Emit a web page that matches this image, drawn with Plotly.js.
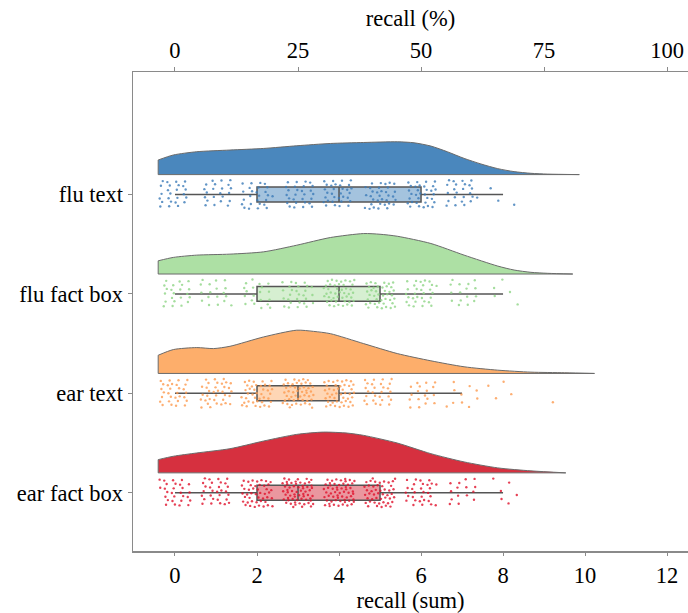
<!DOCTYPE html>
<html>
<head>
<meta charset="utf-8">
<script src="https://cdn.plot.ly/plotly-3.0.1.min.js"></script>
<style>html,body{margin:0;padding:0;background:#fff;}#chart{width:688px;height:613px;}</style>
</head>
<body>
<div id="chart"></div>
<script>
// ---------------- data ----------------
const groups = ["flu text", "flu fact box", "ear text", "ear fact box"];
const colors = ["#4a87bd", "#ade0a4", "#fdae6b", "#d6303f"];
const pointColors = ["#3b7bb8", "#8fd486", "#fd9a4f", "#e0102a"];
const boxFill = ["rgba(74,135,189,0.5)", "rgba(173,224,164,0.5)", "rgba(253,174,107,0.5)", "rgba(214,48,63,0.5)"];

// counts of participants per recall sum (0,1,2,...)
const countsFluText    = [25, 22, 26, 28, 32, 34, 33, 24, 3];
const countsFluFactBox = [22, 18, 20, 28, 45, 42, 30, 16, 5];
const countsEarText    = [30, 35, 40, 50, 45, 28, 18, 10, 4, 1];
const countsEarFactBox = [28, 30, 45, 60, 58, 48, 30, 15, 6];

// density curves (half violins): x grid and estimated density
const densXFluText    = [-0.41, -0.04, 0.53, 1.34, 2.16, 2.97, 3.79, 4.6, 5.42, 5.83, 6.24, 6.64, 7.05, 7.46, 7.87, 8.27, 8.68, 9.09, 9.86];
const densFluText     = [0.147, 0.197, 0.23, 0.247, 0.263, 0.29, 0.313, 0.323, 0.33, 0.32, 0.287, 0.23, 0.163, 0.107, 0.06, 0.03, 0.013, 0.005, 0.0];
const densXFluFactBox = [-0.41, -0.04, 0.53, 1.34, 2.16, 2.97, 3.79, 4.6, 5.0, 5.42, 6.24, 7.05, 7.87, 8.27, 8.68, 9.09, 9.7];
const densFluFactBox  = [0.133, 0.167, 0.19, 0.2, 0.223, 0.29, 0.367, 0.407, 0.40, 0.38, 0.307, 0.19, 0.08, 0.04, 0.017, 0.007, 0.0];
const densXEarText    = [-0.41, -0.04, 0.53, 0.94, 1.34, 2.16, 2.97, 3.38, 3.79, 4.6, 5.42, 6.24, 7.05, 7.87, 8.68, 9.5, 10.23];
const densEarText     = [0.183, 0.24, 0.26, 0.25, 0.273, 0.367, 0.435, 0.423, 0.40, 0.30, 0.20, 0.127, 0.067, 0.033, 0.013, 0.007, 0.0];
const densXEarFactBox = [-0.41, -0.04, 0.53, 1.34, 2.16, 2.97, 3.62, 4.2, 4.6, 5.42, 6.24, 7.05, 7.87, 8.68, 9.53];
const densEarFactBox  = [0.133, 0.167, 0.20, 0.243, 0.32, 0.387, 0.41, 0.40, 0.377, 0.30, 0.193, 0.11, 0.05, 0.02, 0.0];

const allCounts = [countsFluText, countsFluFactBox, countsEarText, countsEarFactBox];
const allDensX = [densXFluText, densXFluFactBox, densXEarText, densXEarFactBox];
const allDens = [densFluText, densFluFactBox, densEarText, densEarFactBox];

const sumTicks = [0, 2, 4, 6, 8, 10, 12];
const pctTicks = [0, 25, 50, 75, 100];
const maxSum = 12;

// ---------------- helpers ----------------
function expand(counts) {
  const v = [];
  counts.forEach((c, val) => { for (let i = 0; i < c; i++) v.push(val); });
  return v;
}
function quantile(sorted, p) {
  const idx = p * (sorted.length - 1);
  const lo = Math.floor(idx), hi = Math.ceil(idx);
  return sorted[lo] + (sorted[hi] - sorted[lo]) * (idx - lo);
}
function frac(x) { return x - Math.floor(x); }

const traces = [];
const violinOffset = 0.2;   // gap between category centre and violin baseline
const jitterX = 0.76, jitterY = 0.29;
const a1 = 0.7548776662466927, a2 = 0.5698402909980532; // R2 low-discrepancy sequence

groups.forEach((g, gi) => {
  const base = gi - violinOffset;
  const dx = allDensX[gi], d = allDens[gi];
  const xEnd = dx[dx.length - 1];
  // baseline + left edge of half violin
  traces.push({
    type: 'scatter', mode: 'lines',
    x: [dx[0], dx[0], xEnd], y: [base - d[0], base, base],
    line: {color: '#6b6b6b', width: 1}, hoverinfo: 'skip', showlegend: false
  });
  // density curve, filled to the baseline trace
  traces.push({
    type: 'scatter', mode: 'lines', x: dx, y: d.map(v => base - v), fill: 'tonexty',
    fillcolor: colors[gi], line: {color: '#6b6b6b', width: 1, shape: 'spline', smoothing: 0.7},
    hoverinfo: 'skip', showlegend: false
  });
  // jittered points
  const vals = expand(allCounts[gi]);
  const px = [], py = [];
  vals.forEach((v, k) => {
    px.push(v + (frac(0.5 + a1 * (k + 1) + gi * 0.13) - 0.5) * jitterX);
    py.push(gi + (frac(0.5 + a2 * (k + 1) + gi * 0.29) - 0.5) * jitterY);
  });
  traces.push({
    type: 'scatter', mode: 'markers', x: px, y: py,
    marker: {color: pointColors[gi], size: 2.4, opacity: 0.8},
    hoverinfo: 'skip', showlegend: false
  });
  // box
  const s = vals.slice().sort((a, b) => a - b);
  const q1 = quantile(s, 0.25), med = quantile(s, 0.5), q3 = quantile(s, 0.75);
  const iqr = q3 - q1;
  const lf = s.find(v => v >= q1 - 1.5 * iqr);
  const uf = s.filter(v => v <= q3 + 1.5 * iqr).pop();
  traces.push({
    type: 'box', orientation: 'h', y: [gi], q1: [q1], median: [med], q3: [q3],
    lowerfence: [lf], upperfence: [uf], width: 0.15, whiskerwidth: 0,
    fillcolor: boxFill[gi], line: {color: '#555555', width: 1.5},
    boxpoints: false, hoverinfo: 'skip', showlegend: false
  });
});

// invisible trace to activate the top (percent) axis
traces.push({type: 'scatter', mode: 'markers', x: [0], y: [0], xaxis: 'x2', yaxis: 'y',
  marker: {opacity: 0}, hoverinfo: 'skip', showlegend: false});

const xr = [-1.024, 12.51];
const font = {family: '"Liberation Serif", "Times New Roman", serif', size: 22.5, color: '#000'};
const layout = {
  width: 688, height: 613,
  margin: {l: 133, r: 0, t: 72, b: 62},
  paper_bgcolor: '#fff', plot_bgcolor: '#fff',
  font: font,
  xaxis: {
    range: xr, tickvals: sumTicks, ticktext: sumTicks.map(String),
    showline: true, linecolor: '#8a8a8a', linewidth: 1.5, mirror: false,
    ticks: 'outside', ticklen: 3, tickcolor: '#8a8a8a', showgrid: false, zeroline: false,
    title: {text: 'recall (sum)', font: font, standoff: 0}
  },
  xaxis2: {
    overlaying: 'x', side: 'top', range: xr.map(v => v * 100 / maxSum),
    tickvals: pctTicks, ticktext: pctTicks.map(String),
    showline: true, linecolor: '#8a8a8a', linewidth: 1.5,
    ticks: 'outside', ticklen: 4, tickcolor: '#8a8a8a', showgrid: false, zeroline: false,
    title: {text: 'recall (%)', font: font, standoff: 4}
  },
  yaxis: {
    range: [3.586, -1.232], tickvals: [0, 1, 2, 3], ticktext: groups,
    showline: true, linecolor: '#8a8a8a', linewidth: 1.5,
    ticks: 'outside', ticklen: 4, tickcolor: '#8a8a8a', showgrid: false, zeroline: false
  },
  showlegend: false
};
Plotly.newPlot('chart', traces, layout, {displayModeBar: false, staticPlot: true});
</script>
</body>
</html>
